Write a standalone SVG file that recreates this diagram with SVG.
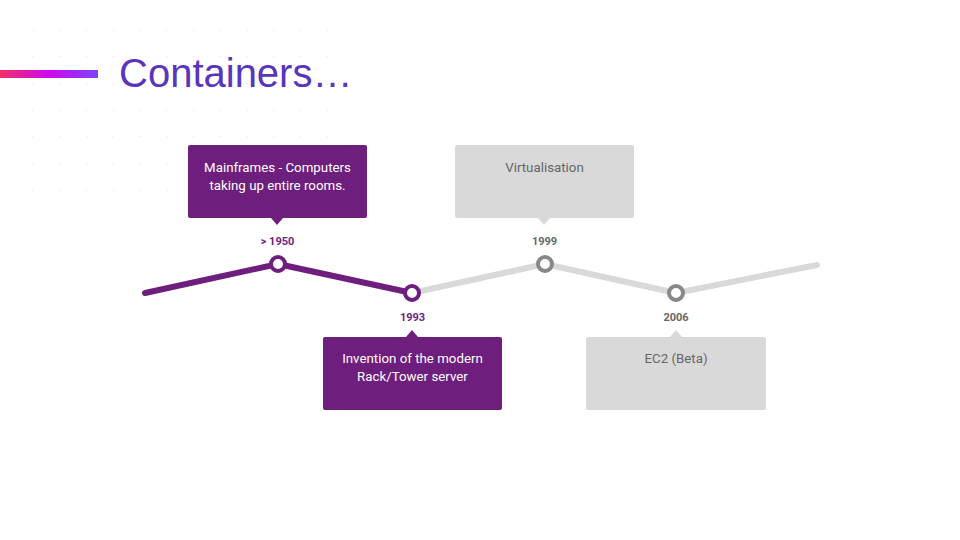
<svg xmlns="http://www.w3.org/2000/svg" width="960" height="540" viewBox="0 0 960 540">
<defs>
<linearGradient id="bar" x1="0" y1="0" x2="1" y2="0">
<stop offset="0" stop-color="#f2306a"/>
<stop offset="0.5" stop-color="#cc08ee"/>
<stop offset="1" stop-color="#7f44f4"/>
</linearGradient>
<pattern id="dots" x="20" y="17" width="26.7" height="26.7" patternUnits="userSpaceOnUse">
<circle cx="13.3" cy="13.3" r="0.8" fill="#e2e2e2"/>
</pattern>
</defs>
<style>
.pbox{fill:#6e1e7c}
.gbox{fill:#d9d9d9}
.ptxt{font-family:Roboto,"Liberation Sans",sans-serif;font-size:13.3px;fill:#ffffff;text-anchor:middle}
.gtxt{font-family:Roboto,"Liberation Sans",sans-serif;font-size:13.3px;fill:#666666;text-anchor:middle}
.pyear{font-family:Roboto,"Liberation Sans",sans-serif;font-size:11px;font-weight:bold;fill:#6e1e7c;text-anchor:middle}
.gyear{font-family:Roboto,"Liberation Sans",sans-serif;font-size:11px;font-weight:bold;fill:#666666;text-anchor:middle}
.pline{fill:none;stroke:#6e1e7c;stroke-width:6;stroke-linecap:round;stroke-linejoin:round}
.gline{fill:none;stroke:#d9d9d9;stroke-width:6;stroke-linecap:round;stroke-linejoin:round}
.pnode{fill:#ffffff;stroke:#6e1e7c;stroke-width:4}
.gnode{fill:#ffffff;stroke:#888888;stroke-width:4}
</style>
<rect width="960" height="540" fill="#ffffff"/>
<rect x="20" y="17" width="320" height="187" fill="url(#dots)"/>
<rect x="0" y="70" width="98" height="8" fill="url(#bar)"/>
<text x="119" y="87" font-family="'Liberation Sans',Arial,sans-serif" font-size="40" fill="#5a34bd">Containers…</text>
<g id="connectors">
<polyline class="gline" points="412,293 545,264 676,293 817,265"/>
<polyline class="pline" points="145,293 278,264 412,293"/>
</g>
<g id="node-1950">
<rect class="pbox" x="188" y="145" width="179" height="73" rx="2"/>
<polygon class="pbox" points="271,218 283,218 277,225"/>
<text class="ptxt" x="277.5" y="172">Mainframes - Computers</text>
<text class="ptxt" x="277.5" y="190">taking up entire rooms.</text>
<text class="pyear" x="277.5" y="245">&gt; 1950</text>
<circle class="pnode" cx="278" cy="264" r="7"/>
</g>
<g id="node-1993">
<rect class="pbox" x="323" y="337" width="179" height="73" rx="2"/>
<polygon class="pbox" points="406,337 418,337 412,330"/>
<text class="ptxt" x="412.5" y="363">Invention of the modern</text>
<text class="ptxt" x="412.5" y="381">Rack/Tower server</text>
<text class="pyear" x="412.5" y="321">1993</text>
<circle class="pnode" cx="412" cy="293" r="7"/>
</g>
<g id="node-1999">
<rect class="gbox" x="455" y="145" width="179" height="73" rx="2"/>
<polygon class="gbox" points="538,218 550,218 544,225"/>
<text class="gtxt" x="544.5" y="172">Virtualisation</text>
<text class="gyear" x="544.5" y="245">1999</text>
<circle class="gnode" cx="545" cy="264" r="7"/>
</g>
<g id="node-2006">
<rect class="gbox" x="586" y="337" width="180" height="73" rx="2"/>
<polygon class="gbox" points="670,337 682,337 676,330"/>
<text class="gtxt" x="676" y="363">EC2 (Beta)</text>
<text class="gyear" x="676" y="321">2006</text>
<circle class="gnode" cx="676" cy="293" r="7"/>
</g>
</svg>
